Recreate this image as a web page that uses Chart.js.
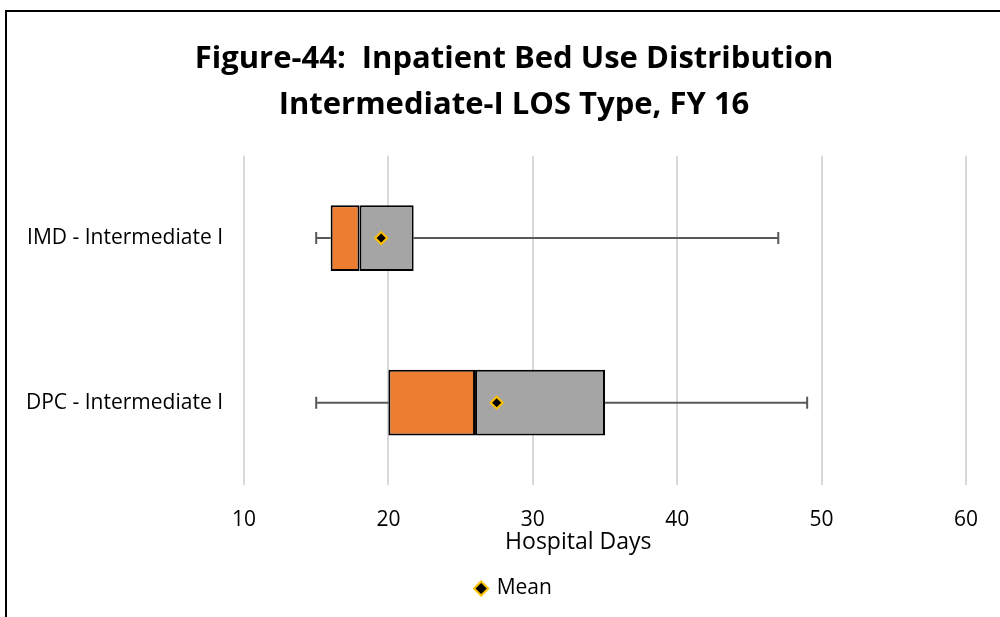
<!DOCTYPE html>
<html>
<head>
<meta charset="utf-8">
<title>Inpatient Bed Use Distribution</title>
<script src="https://cdn.jsdelivr.net/npm/chart.js@4/dist/chart.umd.min.js"></script>
<style>
  html, body { margin: 0; padding: 0; background: #fff; }
  #wrap { width: 1000px; height: 617px; }
</style>
</head>
<body>
<div id="wrap"><canvas id="boxChart" width="1000" height="617"></canvas></div>
<script>
// LOS distribution per unit (days)
const categories = ['IMD - Intermediate I', 'DPC - Intermediate I'];
const minDays = [15, 15];
const q1Days = [16, 20];
const medianDays = [18, 26];
const q3Days = [21.75, 35];
const maxDays = [47, 49];
const meanDays = [19.5, 27.5];
const xTicks = [10, 20, 30, 40, 50, 60];

const FONT = '"Open Sans", "Liberation Sans", sans-serif';

// whiskers: line from min to Q1 and Q3 to max with end caps
const whiskerPlugin = {
  id: 'whiskers',
  beforeDatasetsDraw(chart) {
    const ctx = chart.ctx;
    const xs = chart.scales.x;
    const ys = chart.scales.y;
    ctx.save();
    ctx.strokeStyle = '#595959';
    ctx.lineWidth = 2;
    categories.forEach((c, i) => {
      const y = ys.getPixelForValue(i);
      const lo = xs.getPixelForValue(minDays[i]);
      const hi = xs.getPixelForValue(maxDays[i]);
      ctx.beginPath();
      ctx.moveTo(lo, y);
      ctx.lineTo(xs.getPixelForValue(q1Days[i]), y);
      ctx.moveTo(xs.getPixelForValue(q3Days[i]), y);
      ctx.lineTo(hi, y);
      ctx.moveTo(lo, y - 6);
      ctx.lineTo(lo, y + 6);
      ctx.moveTo(hi, y - 6);
      ctx.lineTo(hi, y + 6);
      ctx.stroke();
    });
    ctx.restore();
  }
};

// axis caption and the frame round the figure
const decorPlugin = {
  id: 'decor',
  afterDraw(chart) {
    const ctx = chart.ctx;
    const area = chart.chartArea;
    ctx.save();
    ctx.fillStyle = '#000';
    ctx.font = '23px ' + FONT;
    ctx.textAlign = 'center';
    ctx.textBaseline = 'middle';
    ctx.fillText('Hospital Days', area.left + (area.right - area.left) * 0.463, 542);

    ctx.strokeStyle = '#000';
    ctx.lineWidth = 2;
    ctx.beginPath();
    ctx.moveTo(6, 617);
    ctx.lineTo(6, 11);
    ctx.lineTo(1000, 11);
    ctx.stroke();
    ctx.restore();
  }
};

const ctx = document.getElementById('boxChart').getContext('2d');

const boxChart = new Chart(ctx, {
  type: 'bar',
  data: {
    labels: categories,
    datasets: [
      {
        label: 'Q1 - Median',
        data: categories.map((c, i) => [q1Days[i], medianDays[i]]),
        backgroundColor: '#ED7D31',
        borderColor: '#000',
        borderWidth: 2,
        borderSkipped: false,
        grouped: false,
        barPercentage: 0.4,
        categoryPercentage: 1
      },
      {
        label: 'Median - Q3',
        data: categories.map((c, i) => [medianDays[i], q3Days[i]]),
        backgroundColor: '#A5A5A5',
        borderColor: '#000',
        borderWidth: 2,
        borderSkipped: false,
        grouped: false,
        barPercentage: 0.4,
        categoryPercentage: 1
      },
      {
        // mean marker, drawn over the boxes
        type: 'line',
        label: 'Mean',
        data: meanDays,
        order: -1,
        indexAxis: 'y',
        showLine: false,
        pointStyle: 'rectRot',
        pointRadius: 6,
        pointHoverRadius: 6,
        pointBackgroundColor: '#000',
        pointBorderColor: '#FFC000',
        pointBorderWidth: 2,
        backgroundColor: '#000',
        borderColor: '#FFC000',
        borderWidth: 2
      }
    ]
  },
  options: {
    indexAxis: 'y',
    responsive: false,
    animation: false,
    layout: { padding: { left: 54, right: 26, top: 0, bottom: 8 } },
    plugins: {
      title: {
        display: true,
        text: ['Figure-44:  Inpatient Bed Use Distribution', 'Intermediate-I LOS Type, FY 16'],
        color: '#000',
        font: { family: FONT, size: 31, weight: 'bold', lineHeight: 1.48 },
        padding: { top: 36, bottom: 28 }
      },
      legend: {
        position: 'bottom',
        labels: {
          filter: (item) => item.text === 'Mean',
          usePointStyle: true,
          boxWidth: 10,
          boxHeight: 10,
          color: '#000',
          font: { family: FONT, size: 21 }
        }
      },
      tooltip: { enabled: false }
    },
    scales: {
      x: {
        type: 'linear',
        min: 10,
        max: 60,
        afterBuildTicks: (scale) => { scale.ticks = xTicks.map(v => ({ value: v })); },
        afterFit: (scale) => { scale.height = 83; },
        grid: { color: '#D9D9D9', lineWidth: 2, drawTicks: false },
        border: { display: false },
        ticks: { color: '#000', padding: 22, font: { family: FONT, size: 21 } }
      },
      y: {
        type: 'category',
        afterFit: (scale) => {
          scale.width = 190;
          // long labels run into the left padding, so don't clip them to the axis box
          scale._computeLabelArea = () => null;
        },
        grid: { display: false },
        border: { display: false },
        ticks: { color: '#000', padding: 13, font: { family: FONT, size: 21 } }
      }
    }
  },
  plugins: [whiskerPlugin, decorPlugin]
});
</script>
</body>
</html>
